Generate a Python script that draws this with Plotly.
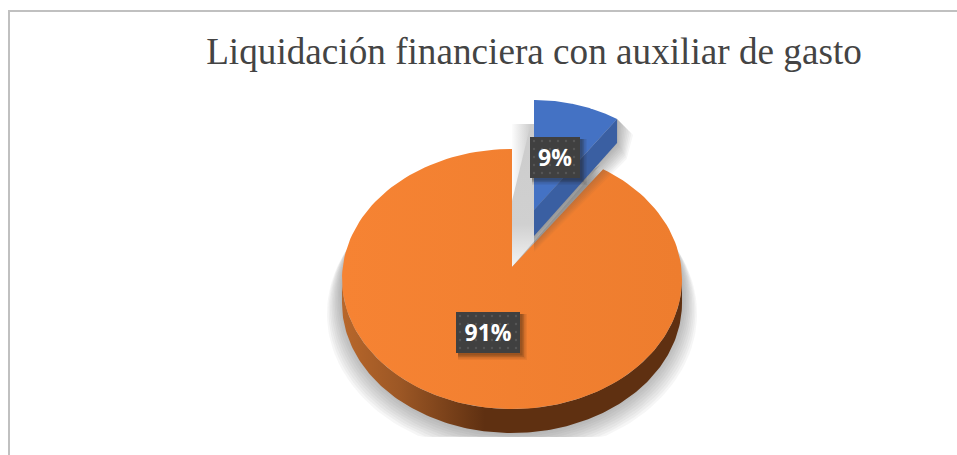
import numpy as np
import plotly.graph_objects as go

title = "Liquidación financiera con auxiliar de gasto"
segments = ["Con auxiliar", "Sin auxiliar"]
values = [9, 91]
label_texts = ["9%", "91%"]

W, H = 957, 455
DEPTH = 24
GROUND = 437  # the source image cuts the shadow off here


def ellipse_arc(cx, cy, a, b, start, stop):
    # angles in degrees, clockwise from twelve o'clock
    t = np.radians(np.linspace(start, stop, 160))
    return cx + a * np.sin(t), cy - b * np.cos(t)


def add_poly(fig, x, y, color=None, gradient=None):
    kw = dict(fillgradient=gradient) if gradient else dict(fillcolor=color)
    fig.add_trace(go.Scatter(x=list(x), y=list(y), mode="lines", line=dict(width=0),
                             fill="toself", hoverinfo="skip", **kw))


def add_label(fig, text, x0, x1, y0, y1):
    for off, alpha in [(7, 0.06), (5.5, 0.1), (4, 0.14), (2.5, 0.18)]:
        add_poly(fig, [x0 + 2, x1 + off, x1 + off, x0 + 2], [y0 + 2, y0 + 2, y1 + off, y1 + off], f"rgba(30,20,10,{alpha})")
    add_poly(fig, [x0, x1, x1, x0], [y0, y0, y1, y1], "#404040")
    # dotted texture of the label box
    dx, dy = np.meshgrid(np.arange(x0 + 4, x1, 8), np.arange(y0 + 4, y1, 8))
    fig.add_trace(go.Scatter(x=dx.ravel(), y=dy.ravel(), mode="markers", hoverinfo="skip",
                             marker=dict(size=2.5, color="#565656")))
    fig.add_trace(go.Scatter(x=[(x0 + x1) / 2], y=[(y0 + y1) / 2 + 3], mode="text", text=[text], hoverinfo="skip",
                             textposition="middle center",
                             textfont=dict(family="Open Sans", size=23, color="white", weight="bold")))


angle_blue = values[0] / sum(values) * 360

fig = go.Figure()

# soft shadow round the orange piece, its top stays hidden behind the pie
ox, oy = ellipse_arc(512, 279, 170, 130, angle_blue, 360)
for grow in np.linspace(15, 1, 10):
    sx, sy = ellipse_arc(512, 279 + DEPTH / 2 + grow * 1.5, 170 + grow, 130 + DEPTH / 2, 0, 360)
    add_poly(fig, sx, np.minimum(sy, GROUND), "rgba(90,90,90,0.055)")

# grey gap between the pieces
add_poly(fig, [512, 512, 534, 534, 600, 512], [267, 124, 124, 210, 165, 267],
         gradient=dict(type="vertical", colorscale=[[0, "#f4f4f4"], [0.3, "#d0d0d0"], [1, "#cccccc"]]))
add_poly(fig, [511, 511, 531], [205, 123, 123],
         gradient=dict(type="horizontal", colorscale=[[0, "rgba(255,255,255,1)"], [1, "rgba(255,255,255,0)"]]))

# orange side wall, then top face
wx, wy = ellipse_arc(512, 279, 170, 130, 90, 270)
add_poly(fig, np.r_[wx, wx[::-1]], np.r_[wy, wy[::-1] + DEPTH],
         gradient=dict(type="horizontal", colorscale=[[0, "#b8672b"], [0.17, "#9c5725"], [0.42, "#5f3011"], [1, "#5f3011"]]))
add_poly(fig, np.r_[512, ox], np.r_[267, oy],
         gradient=dict(type="horizontal", colorscale=[[0, "#f68333"], [1, "#ee7d2e"]]))

# blue piece pulled out of the pie
bx, by = ellipse_arc(534, 222, 155, 122, 0, angle_blue)
for grow in np.linspace(16, 1, 10):
    add_poly(fig, [534, bx[-1], bx[-1] + grow, bx[-1] + grow * 0.6, 534],
             [by[-1], by[-1], by[-1] + grow, by[-1] + DEPTH + grow, 236 + grow],
             "rgba(80,80,80,0.05)")
add_poly(fig, [534, bx[-1], bx[-1], 534], [210, by[-1], by[-1] + DEPTH, 210 + DEPTH + 2], "#3a5fa2")
add_poly(fig, np.r_[534, bx], np.r_[210, by], "#4472c4")

add_label(fig, label_texts[0], 530, 580, 137, 178)
add_label(fig, label_texts[1], 456, 520, 312, 353)

fig.update_layout(
    width=W, height=H, margin=dict(l=0, r=0, t=0, b=0),
    paper_bgcolor="white", plot_bgcolor="white", showlegend=False,
    title=dict(text=title, x=534 / W, y=1 - 51 / H, xanchor="center", yanchor="middle",
               font=dict(family="Liberation Serif", size=37.2, color="#444444")),
    # frame of the chart, only top and left are in the picture
    shapes=[dict(type="path", path=f"M 9 {H} L 9 11 L {W} 11", xref="x", yref="y",
                 line=dict(color="#c0c0c0", width=2))],
)
fig.update_xaxes(range=[0, W], visible=False)
fig.update_yaxes(range=[H, 0], visible=False)

fig.write_html("out.html", config={"displayModeBar": False}, post_script="document.body.style.margin='0';")
